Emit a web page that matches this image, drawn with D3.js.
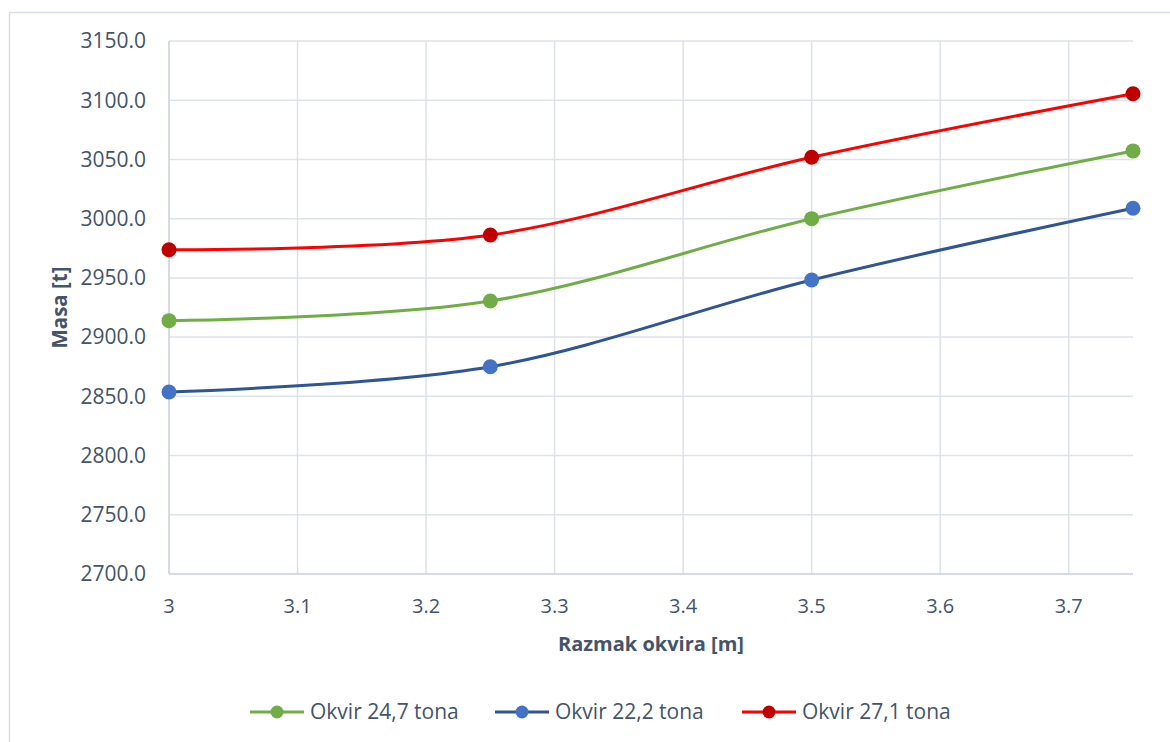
<!DOCTYPE html>
<html>
<head>
<meta charset="utf-8">
<script src="https://cdn.jsdelivr.net/npm/d3@7/dist/d3.min.js"></script>
<style>
  html, body { margin: 0; padding: 0; background: #fff; }
  svg { display: block; font-family: "Open Sans", "Noto Sans", sans-serif; }
</style>
</head>
<body>
<svg id="chart" width="1170" height="742"></svg>
<script>
// Frame spacing (m)
const spacing = [3.0, 3.25, 3.5, 3.75];

// Ship mass (t) for each frame weight
const okvir247 = [2913.9, 2930.5, 3000.0, 3057.2];
const okvir222 = [2853.7, 2875.0, 2948.2, 3008.8];
const okvir271 = [2973.8, 2986.2, 3051.8, 3105.5];

const seriesNames = ["Okvir 24,7 tona", "Okvir 22,2 tona", "Okvir 27,1 tona"];
const xTicks = [3.0, 3.1, 3.2, 3.3, 3.4, 3.5, 3.6, 3.7];
const yTicks = [2700, 2750, 2800, 2850, 2900, 2950, 3000, 3050, 3100, 3150];

const series = [
  { name: seriesNames[0], values: okvir247, line: "#70ad47", marker: "#70ad47" },
  { name: seriesNames[1], values: okvir222, line: "#2f5597", marker: "#4472c4" },
  { name: seriesNames[2], values: okvir271, line: "#ff0000", marker: "#c00000" }
];

const svg = d3.select("#chart");
const textColor = "#44546a";
const gridColor = "#dde1e8";

// Outer chart frame
svg.append("rect")
  .attr("x", 9.5).attr("y", 12.5)
  .attr("width", 1200).attr("height", 800)
  .attr("fill", "#fff").attr("stroke", "#dadde3").attr("stroke-width", 1.5);

const plotLeft = 169, plotRight = 1133, plotTop = 41, plotBottom = 574;

const x = d3.scaleLinear().domain([3.0, 3.75]).range([plotLeft, plotRight]);
const y = d3.scaleLinear().domain([2700, 3150]).range([plotBottom, plotTop]);

// Horizontal gridlines
svg.append("g").selectAll("line").data(yTicks).join("line")
  .attr("x1", plotLeft).attr("x2", plotRight)
  .attr("y1", d => y(d)).attr("y2", d => y(d))
  .attr("stroke", gridColor).attr("stroke-width", 1.5);

// Vertical gridlines
svg.append("g").selectAll("line").data(xTicks).join("line")
  .attr("x1", d => x(d)).attr("x2", d => x(d))
  .attr("y1", plotTop).attr("y2", plotBottom)
  .attr("stroke", gridColor).attr("stroke-width", 1.5);

// Axis lines
svg.append("line").attr("x1", plotLeft).attr("x2", plotLeft).attr("y1", plotTop).attr("y2", plotBottom)
  .attr("stroke", "#d0d6df").attr("stroke-width", 1.5);
svg.append("line").attr("x1", plotLeft).attr("x2", plotRight).attr("y1", plotBottom).attr("y2", plotBottom)
  .attr("stroke", "#d0d6df").attr("stroke-width", 1.5);

// Y tick labels
svg.append("g").selectAll("text").data(yTicks).join("text")
  .attr("x", 146).attr("y", d => y(d))
  .attr("dy", "0.35em")
  .attr("text-anchor", "end")
  .attr("font-size", 21)
  .attr("fill", textColor)
  .text(d => d3.format(".1f")(d));

// X tick labels
svg.append("g").selectAll("text").data(xTicks).join("text")
  .attr("x", d => x(d)).attr("y", 606)
  .attr("dy", "0.35em")
  .attr("text-anchor", "middle")
  .attr("font-size", 20)
  .attr("fill", textColor)
  .text(d => d3.format("~g")(d));

// Axis titles
svg.append("text")
  .attr("x", (plotLeft + plotRight) / 2).attr("y", 644)
  .attr("dy", "0.35em")
  .attr("text-anchor", "middle")
  .attr("font-size", 20).attr("font-weight", "bold")
  .attr("fill", textColor)
  .text("Razmak okvira [m]");

svg.append("text")
  .attr("transform", `translate(60,${(plotTop + plotBottom) / 2}) rotate(-90)`)
  .attr("dy", "0.35em")
  .attr("text-anchor", "middle")
  .attr("font-size", 20.5).attr("font-weight", "bold")
  .attr("fill", textColor)
  .text("Masa [t]");

// Smoothed series lines
const lineGen = d3.line()
  .x((d, i) => x(spacing[i]))
  .y(d => y(d))
  .curve(d3.curveCatmullRom.alpha(0));

const plot = svg.append("g");
series.forEach(s => {
  plot.append("path")
    .datum(s.values)
    .attr("d", lineGen)
    .attr("fill", "none")
    .attr("stroke", s.line)
    .attr("stroke-width", 3)
    .attr("stroke-linecap", "round");
});
series.forEach(s => {
  plot.append("g").selectAll("circle").data(s.values).join("circle")
    .attr("cx", (d, i) => x(spacing[i]))
    .attr("cy", d => y(d))
    .attr("r", 7.5)
    .attr("fill", s.marker);
});

// Legend
const legendItems = [
  { s: series[0], x0: 250 },
  { s: series[1], x0: 495 },
  { s: series[2], x0: 742 }
];
const ly = 712;
const legend = svg.append("g");
legendItems.forEach(({ s, x0 }) => {
  legend.append("line")
    .attr("x1", x0).attr("x2", x0 + 54)
    .attr("y1", ly).attr("y2", ly)
    .attr("stroke", s.line).attr("stroke-width", 3);
  legend.append("circle")
    .attr("cx", x0 + 27).attr("cy", ly).attr("r", 6.5)
    .attr("fill", s.marker);
  legend.append("text")
    .attr("x", x0 + 60).attr("y", ly)
    .attr("dy", "0.35em")
    .attr("font-size", 21)
    .attr("fill", textColor)
    .text(s.name);
});
</script>
</body>
</html>
